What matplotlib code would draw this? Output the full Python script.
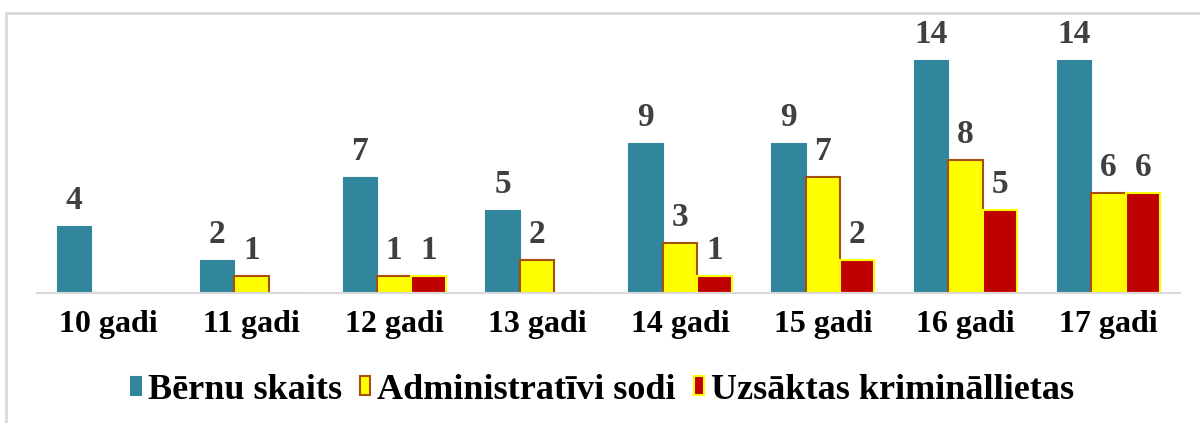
import matplotlib.pyplot as plt
import numpy as np
from matplotlib.patches import Rectangle

categories = ['10 gadi', '11 gadi', '12 gadi', '13 gadi', '14 gadi', '15 gadi', '16 gadi', '17 gadi']
berni = [4, 2, 7, 5, 9, 9, 14, 14]
admin = [0, 1, 1, 2, 3, 7, 8, 6]
krim = [0, 0, 1, 0, 1, 2, 5, 6]
names = ['Bērnu skaits', 'Administratīvi sodi', 'Uzsāktas krimināllietas']

plt.rcParams['font.family'] = ['Liberation Serif', 'DejaVu Serif']

fig = plt.figure(figsize=(12, 4.23), dpi=100)
ax = fig.add_axes([37/1200, 1 - 293/423, (1180-37)/1200, (293-20)/423])

x = np.arange(len(categories))
w = 0.241
b1 = ax.bar(x - w, berni, w, color='#31859C', edgecolor='#31859C', linewidth=0.8, label=names[0])
b2 = ax.bar(x, admin, w, color='#FFFF00', edgecolor='#A5500F', linewidth=1.5, label=names[1])
b3 = ax.bar(x + w, krim, w, color='#C00000', edgecolor='#FFFF00', linewidth=1.5, label=names[2])

# value labels, skip zeros
for bars, vals in [(b1, berni), (b2, admin), (b3, krim)]:
    for r, v in zip(bars, vals):
        if v == 0:
            continue
        ax.text(r.get_x() + r.get_width()/2, v + 0.6, str(v), ha='center', va='bottom',
                fontsize=24, fontweight='bold', color='#404040')

ax.set_xlim(-0.5, 7.5)
ax.set_ylim(0, (293-20)/16.64)
ax.set_yticks([])
ax.set_xticks(x)
ax.set_xticklabels(categories, fontsize=23, fontweight='bold')
ax.tick_params(axis='x', length=0, pad=12)
for s in ['top', 'right', 'left']:
    ax.spines[s].set_visible(False)
ax.spines['bottom'].set_color('#D9D9D9')
ax.spines['bottom'].set_linewidth(1.5)

fig.legend(loc='center', bbox_to_anchor=(0.502, 1 - 390/423), ncol=3, frameon=False,
           prop={'size': 26, 'weight': 'bold'}, handlelength=0.28, handleheight=0.45,
           handletextpad=0.2, columnspacing=0.5)

fig.patches.append(Rectangle((6/1200, -0.1), 1.2, 1 - 13/423 + 0.1, transform=fig.transFigure,
                             fill=False, edgecolor='#D9D9D9', linewidth=2))

fig.savefig('out.png', dpi=100)
